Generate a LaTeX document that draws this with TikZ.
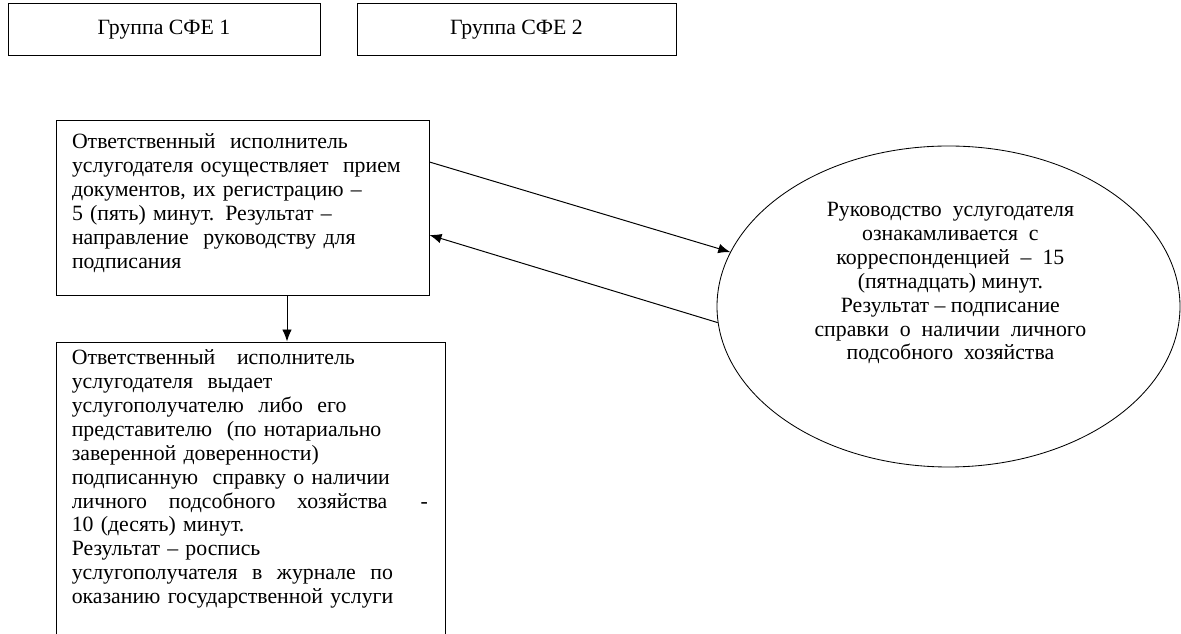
\documentclass[tikz,border=0pt]{standalone}
\usepackage{fontspec}
\setmainfont{Liberation Serif}
\usetikzlibrary{shapes.geometric, arrows, arrows.meta, positioning, calc}
\tikzset{
  grupo/.style={rectangle, minimum height=1.3cm, text centered, draw=black,
                line width=0.7pt, font=\fontsize{15.5}{17}\selectfont},
  etapa/.style={rectangle, draw=black, line width=0.7pt, align=left, inner xsep=0.4cm,
                font=\fontsize{15.5}{17}\selectfont},
  ovalo/.style={ellipse, draw=black, line width=0.6pt, minimum width=11.575cm, minimum height=8.025cm},
  texto/.style={align=center, inner sep=0pt, font=\fontsize{15.5}{17}\selectfont},
  arrow/.style={line width=0.7pt,-{Latex[length=0.3cm,width=0.24cm]},color=black}
}
\begin{document}
\begin{tikzpicture}
  \useasboundingbox (0,0) rectangle (29.525,15.85);
  \node (g1) [grupo, minimum width=7.8cm] at (4.1,15.1) {Группа СФЕ 1};
  \node (g2) [grupo, minimum width=7.975cm] at (12.9125,15.1) {Группа СФЕ 2};
  % recepcion de documentos
  \node (ispA) [etapa, text width=8.525cm, minimum height=4.35cm] at (6.0625,10.65)
    {Ответственный\ \ исполнитель\\
     услугодателя осуществляет\ \ прием\\
     документов, их регистрацию –\\
     5 (пять) минут. Результат –\\
     направление\ \ руководству для\\
     подписания\rule[-0.35cm]{0pt}{0pt}};
  % руководство
  \node (ruk) [ovalo] at (23.7125,8.1875) {};
  \node (rukt) [texto] at (23.76,8.77)
    {Руководство\ \ услугодателя\\
     ознакамливается\ \ с\\
     корреспонденцией\ \ –\ \ 15\\
     (пятнадцать) минут.\\
     Результат – подписание\\
     справки\ \ о\ \ наличии\ \ личного\\
     подсобного\ \ хозяйства};
  % выдача
  \node (ispB) [rectangle, draw=black, line width=0.7pt, minimum width=9.725cm, minimum height=8cm]
    at (6.2625,3.3) {};
  \node (ispBt) [texto, align=left, text width=8.9cm, anchor=north west]
    at ([xshift=0.4cm, yshift=-0.2cm]ispB.north west)
    {Ответственный\ \ \ исполнитель\\
     услугодателя\ \ выдает\\
     услугополучателю\ \ либо\ \ его\\
     представителю\ \ (по нотариально\\
     заверенной доверенности)\\
     подписанную\ \ справку о наличии\\
     личного\ \ \ подсобного\ \ \ хозяйства\hfill -\hspace*{0.2cm}\\
     10 (десять) минут.\\
     Результат – роспись\\
     услугополучателя\ \ в\ \ журнале\ \ по\\
     оказанию государственной услуги};
  \draw [arrow] ([yshift=1.15cm]ispA.east) -- (ruk.166.5);
  \draw [arrow] (ruk.184) -- ([yshift=-0.675cm]ispA.east);
  \draw [arrow] ([xshift=1.1125cm]ispA.south) -- ([xshift=1.1125cm]ispA.south |- ispB.north);
\end{tikzpicture}
\end{document}
